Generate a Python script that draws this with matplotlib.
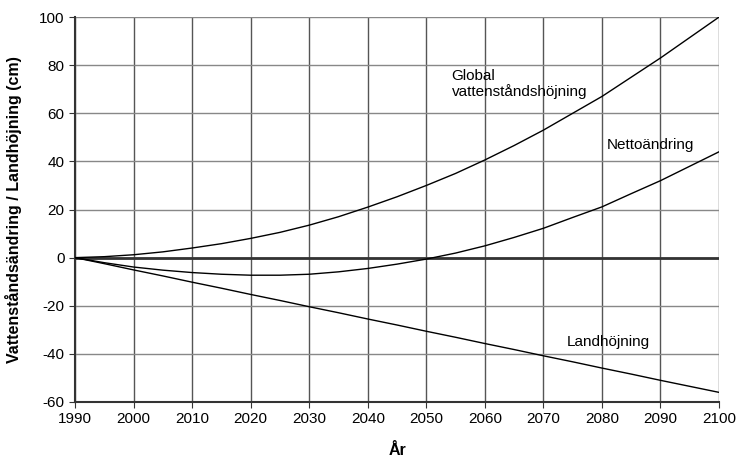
import numpy as np
import matplotlib.pyplot as plt

plt.rcParams['font.family'] = ['Liberation Sans', 'DejaVu Sans']
plt.rcParams['axes.unicode_minus'] = False

# data, 5-year steps
years = list(range(1990, 2101, 5))
global_rise = [0, 0.4, 1.2, 2.4, 4, 5.8, 8, 10.5, 13.5, 17, 21, 25.3, 30,
               35.0, 40.6, 46.6, 53, 60, 67, 75, 83, 91.5, 100]
land_uplift = [0, -2.5, -5.1, -7.6, -10.2, -12.7, -15.3, -17.8, -20.4, -22.9,
               -25.5, -28.0, -30.6, -33.1, -35.7, -38.2, -40.8, -43.3, -45.9,
               -48.4, -51.0, -53.5, -56.0]
net_change = [g + l for g, l in zip(global_rise, land_uplift)]

xticks = list(range(1990, 2101, 10))
yticks = list(range(-60, 101, 20))

fig = plt.figure(figsize=(7.39, 4.61), dpi=100)
ax = fig.add_axes([0.1015, 0.128, 0.8715, 0.835])

for x in xticks:
    ax.axvline(x, color='#555555', lw=1.0, zorder=1)
for y in yticks:
    ax.axhline(y, color='#888888', lw=1.0, zorder=1)
ax.axhline(0, color='#333333', lw=2.0, zorder=2)

ax.plot(years, global_rise, color='black', lw=1.0, zorder=3)
ax.plot(years, land_uplift, color='black', lw=1.0, zorder=3)
ax.plot(years, net_change, color='black', lw=1.0, zorder=3)

ax.text(2054.3, 78.5, 'Global\nvattenståndshöjning', fontsize=11, va='top',
        linespacing=1.1)
ax.text(2080.8, 47, 'Nettoändring', fontsize=11, va='center')
ax.text(2074, -35, 'Landhöjning', fontsize=11, va='center')

ax.set_xlim(1990, 2100)
ax.set_ylim(-60, 100)
ax.set_xticks(xticks)
ax.set_yticks(yticks)
ax.tick_params(labelsize=11, length=4, color='#333333', direction='out')
ax.set_xlabel('År', fontsize=11.5, fontweight='semibold', labelpad=12)
ax.set_ylabel('Vattenståndsändring / Landhöjning (cm)', fontsize=11.5,
              fontweight='semibold', labelpad=12)

for side in ['top', 'right']:
    ax.spines[side].set_visible(False)
for side in ['left', 'bottom']:
    ax.spines[side].set_color('#333333')
    ax.spines[side].set_linewidth(1.5)

fig.savefig('out.png', dpi=100)
